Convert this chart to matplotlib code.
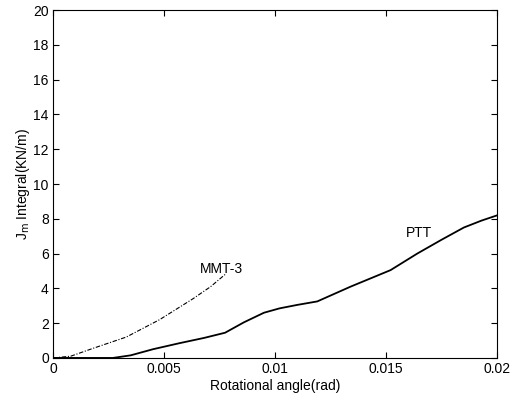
import matplotlib
matplotlib.use('Agg')
import matplotlib.pyplot as plt

# PTT curve (solid)
ptt_x = [0.0, 0.0027, 0.0035, 0.0045, 0.0057, 0.0068, 0.00775, 0.0086, 0.0095, 0.0102,
         0.011, 0.0119, 0.0134, 0.0152, 0.0164, 0.0175, 0.0185, 0.0193, 0.0200]
ptt_j = [0.0, 0.0, 0.15, 0.5, 0.85, 1.15, 1.45, 2.05, 2.6, 2.85,
         3.05, 3.25, 4.1, 5.05, 6.0, 6.8, 7.5, 7.9, 8.2]

# MMT-3 curve (dashed)
mmt_x = [0.0, 0.0008, 0.0018, 0.0033, 0.0048, 0.0063, 0.0071, 0.00775]
mmt_j = [0.0, 0.1, 0.55, 1.2, 2.2, 3.4, 4.1, 4.8]

xticks = [0, 0.005, 0.01, 0.015, 0.02]
xticklabels = ['0', '0.005', '0.01', '0.015', '0.02']
yticks = list(range(0, 21, 2))

plt.rcParams['font.family'] = ['Liberation Sans', 'DejaVu Sans']
fig = plt.figure(figsize=(5.19, 4.04), dpi=100)
ax = fig.add_axes([0.102, 0.114, 0.856, 0.861])

ax.plot(ptt_x, ptt_j, color='black', linewidth=1.3)
ax.plot(mmt_x, mmt_j, color='black', linewidth=0.8, linestyle=(0, (4, 1.5, 1, 1.5)))

ax.text(0.0165, 7.2, 'PTT', fontsize=10, ha='center', va='center')
ax.text(0.0076, 5.1, 'MMT-3', fontsize=10, ha='center', va='center')

ax.set_xlim(0, 0.02)
ax.set_ylim(0, 20)
ax.set_xticks(xticks)
ax.set_xticklabels(xticklabels)
ax.set_yticks(yticks)
ax.tick_params(direction='in', top=True, right=True, labelsize=10, length=4, pad=3)
ax.set_xlabel('Rotational angle(rad)', fontsize=10, labelpad=2)
ax.set_ylabel('J$_{\\rm m}$ Integral(KN/m)', fontsize=10, labelpad=1)

fig.savefig('out.png', dpi=100)
